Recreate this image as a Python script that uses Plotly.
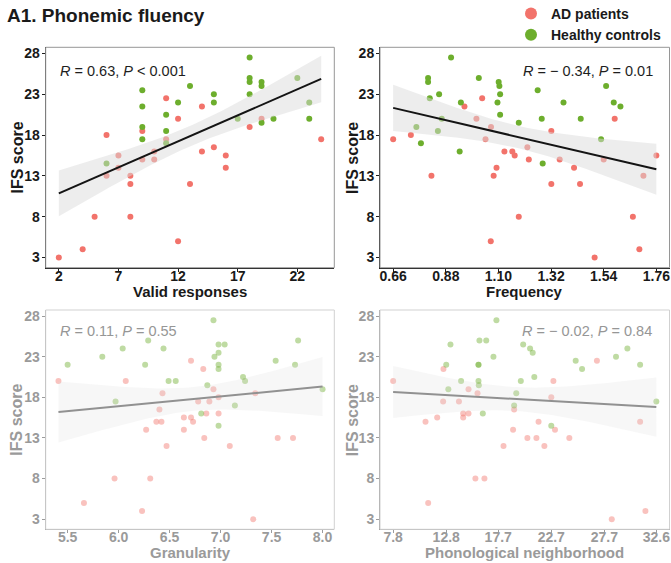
import numpy as np
import plotly.graph_objects as go

# ---------------- data ----------------
valid_red_x = [2, 4, 5, 6, 6, 7, 7, 8, 8, 8, 9, 9, 10, 10, 11, 11, 12, 12, 13, 14, 14, 15, 16, 16, 18, 19, 24]
valid_red_y = [3, 4, 8, 18, 13, 15.5, 14, 13, 12, 8, 18.5, 15, 16, 15, 22.5, 17.5, 20, 5, 12, 21.5, 16, 16.5, 15.5, 14, 19, 20, 17.5]
valid_green_x = [6, 9, 9, 9, 9, 11, 11, 11, 12, 13, 15, 15, 17, 18, 18, 18, 18, 19, 19, 19, 20, 22, 23, 23]
valid_green_y = [14.5, 23.5, 21.5, 19, 17.5, 20.5, 18.5, 17, 22, 24, 23, 22, 20, 27.5, 25, 24.5, 23, 24.5, 24, 19.5, 20, 25, 22, 20]

freq_red_x = [0.66, 0.734, 0.82, 0.958, 1.008, 1.032, 1.046, 1.069, 1.068, 1.08, 1.092, 1.125, 1.158, 1.168, 1.185,
              1.221, 1.227, 1.321, 1.321, 1.356, 1.416, 1.441, 1.502, 1.54, 1.586, 1.662, 1.689, 1.706, 1.76]
freq_red_y = [17.5, 18, 13, 21.5, 20, 22.5, 17.5, 19, 5, 13, 14, 16, 16, 15.5, 8, 16.5, 15, 18.5, 12, 15, 14, 12, 3, 15,
              20, 8, 4, 13, 15.5]
freq_green_x = [0.757, 0.776, 0.806, 0.806, 0.813, 0.847, 0.852, 0.863, 0.902, 0.938, 0.943, 1.018, 1.096, 1.101, 1.104,
                1.107, 1.107, 1.185, 1.264, 1.281, 1.285, 1.372, 1.444, 1.529, 1.55, 1.582, 1.61]
freq_green_y = [19, 17, 25, 24.5, 22.5, 18.5, 23, 20, 27.5, 16, 22, 25, 22, 24.5, 24, 23, 20.5, 19.5, 23.5, 20, 14.5, 22,
                20, 17.5, 24, 22, 21.5]

gran_red_x = [5.41, 5.66, 5.96, 6.07, 6.27, 6.23, 6.31, 6.37, 6.40, 6.42, 6.43, 6.47, 6.64, 6.64, 6.71, 6.71, 6.73, 6.78,
              6.83, 6.84, 6.86, 6.89, 6.93, 6.98, 6.98, 7.09, 7.32, 7.34, 7.56, 7.71]
gran_red_y = [20, 5, 8, 20, 14, 4, 8, 15, 16.5, 15, 18.5, 12, 15.5, 14, 22.5, 15.5, 15, 17.5, 21.5, 13, 16, 17.5, 19, 18,
              16, 12, 3, 18.5, 13, 13]
gran_green_x = [5.5, 5.84, 5.97, 6.04, 6.26, 6.29, 6.44, 6.49, 6.56, 6.81, 6.87, 6.93, 6.94, 6.98, 6.98, 6.98, 6.98, 6.98,
                7.04, 7.14, 7.22, 7.24, 7.54, 7.73, 7.76, 8.0]
gran_green_y = [22, 23, 17.5, 24, 22, 25, 24, 20, 20, 16, 19.5, 27.5, 23, 24.5, 23.5, 22, 21.5, 14.5, 24.5, 17, 20.5, 20,
                22.5, 22, 25, 19]

phon_red_x = [7.8, 10.85, 11.1, 11.95, 12.51, 12.54, 14.0, 14.4, 14.4, 14.9, 14.9, 15.55, 15.75, 16.4, 18.2, 19.1, 19.2,
              20.45, 21.3, 21.5, 22.05, 22.7, 22.9, 23.05, 24.4, 27.0, 28.4, 31.07, 31.57]
phon_red_y = [20, 15, 5, 15.5, 17.5, 21.5, 17.5, 16, 15.5, 19, 16, 8, 18.5, 8, 12, 14, 16.5, 13, 13, 15, 12, 18, 20, 14,
              13, 22.5, 3, 15, 4]
phon_green_x = [12.8, 13.0, 13.2, 14.2, 15.84, 15.84, 15.84, 15.87, 15.93, 16.25, 16.57, 17.25, 17.53, 19.2, 19.4, 19.83,
                20.05, 20.7, 20.95, 21.1, 22.7, 25.0, 25.6, 28.8, 29.87, 31.07, 32.6]
phon_green_y = [22, 19, 24.5, 20, 22, 22, 20, 19.5, 25, 16, 25, 23, 27.5, 17, 18.5, 20, 24.5, 24, 23.5, 20.5, 14.5, 22.5,
                21.5, 23, 24, 22, 17.5]

x_titles = ["Valid responses", "Frequency", "Granularity", "Phonological neighborhood"]
y_title = "IFS score"
stat_labels = ["<i>R</i> = 0.63, <i>P</i> &lt; 0.001", "<i>R</i> = \u2212 0.34, <i>P</i> = 0.01",
               "<i>R</i> = 0.11, <i>P</i> = 0.55", "<i>R</i> = \u2212 0.02, <i>P</i> = 0.84"]
y_ticks = [3, 8, 13, 18, 23, 28]
x_ticks_1 = [2, 7, 12, 17, 22]
x_ticks_2 = [0.66, 0.88, 1.10, 1.32, 1.54, 1.76]
x_ticks_3 = [5.5, 6.0, 6.5, 7.0, 7.5, 8.0]
x_ticks_4 = [7.8, 12.8, 17.7, 22.7, 27.7, 32.6]
x_ticktext_4 = ["7.8", "12.8", "17.7", "22.7", "27.7", "32.6"]
legend_names = ["AD patients", "Healthy controls"]

# ---------------- styling ----------------
W, H = 671, 563
RED = (242, 115, 107)
GREEN = (109, 174, 45)
FONT = "Liberation Sans, Arial, sans-serif"
FADE = 0.56


def hexc(rgb):
    return "#%02x%02x%02x" % tuple(int(round(v)) for v in rgb)


def fade(rgb, f):
    return tuple(c * (1 - f) + 255 * f for c in rgb)


def t975(df):
    z = 1.959964
    return z + (z ** 3 + z) / (4 * df) + (5 * z ** 5 + 16 * z ** 3 + 3 * z) / (96 * df ** 2)


def fit(xr, yr, xg, yg):
    x = np.array(xr + xg, float)
    y = np.array(yr + yg, float)
    n = len(x)
    b, a = np.polyfit(x, y, 1)
    xs = np.linspace(x.min(), x.max(), 80)
    yh = a + b * xs
    res = y - (a + b * x)
    s = np.sqrt(res @ res / (n - 2))
    sxx = ((x - x.mean()) ** 2).sum()
    se = s * np.sqrt(1 / n + (xs - x.mean()) ** 2 / sxx)
    t = t975(n - 2)
    return xs, yh, yh - t * se, yh + t * se


def px(p):
    return p / W


def py(p):
    return 1 - p / H


panels = [
    dict(rx=valid_red_x, ry=valid_red_y, gx=valid_green_x, gy=valid_green_y, xd=(45.7, 334.3), yd=(47.3, 267.7),
         xr=(0.9, 25.1), xt=x_ticks_1, xtt=[str(v) for v in x_ticks_1], faded=False, stat_x=58, stat_y=71,
         anchor="left", ytx=17, xty=291.5),
    dict(rx=freq_red_x, ry=freq_red_y, gx=freq_green_x, gy=freq_green_y, xd=(380, 669.5), yd=(47.3, 267.7),
         xr=(0.605, 1.815), xt=x_ticks_2, xtt=["%.2f" % v for v in x_ticks_2], faded=False, stat_x=655, stat_y=71,
         anchor="right", ytx=352.5, xty=291.5),
    dict(rx=gran_red_x, ry=gran_red_y, gx=gran_green_x, gy=gran_green_y, xd=(45.7, 334.3), yd=(310, 529.3),
         xr=(5.285, 8.115), xt=x_ticks_3, xtt=["%.1f" % v for v in x_ticks_3], faded=True, stat_x=58, stat_y=331,
         anchor="left", ytx=17, xty=552.5),
    dict(rx=phon_red_x, ry=phon_red_y, gx=phon_green_x, gy=phon_green_y, xd=(380, 669.5), yd=(310, 529.3),
         xr=(6.56, 33.84), xt=x_ticks_4, xtt=x_ticktext_4, faded=True, stat_x=654, stat_y=331, anchor="right",
         ytx=352.5, xty=552.5),
]

fig = go.Figure()
layout = dict(width=W, height=H, margin=dict(l=0, r=0, t=0, b=0, autoexpand=False), plot_bgcolor="white",
              paper_bgcolor="white", font=dict(family=FONT), showlegend=True, shapes=[], annotations=[])

for i, p in enumerate(panels):
    k = "" if i == 0 else str(i + 1)
    xa, ya = "x" + k, "y" + k
    f = FADE if p["faded"] else 0.0
    alpha = 1 - f
    txt = hexc(fade((25, 25, 25), f))
    axis_line = hexc(fade((30, 30, 30), f))
    border = hexc(fade((150, 150, 150), f))
    for (xs_, ys_, col) in [(p["rx"], p["ry"], RED), (p["gx"], p["gy"], GREEN)]:
        fig.add_trace(go.Scatter(
            x=xs_, y=ys_, mode="markers", xaxis=xa, yaxis=ya, showlegend=False, hoverinfo="skip",
            marker=dict(size=6, color="rgba(%d,%d,%d,%.3f)" % (col[0], col[1], col[2], alpha), line=dict(width=0))))
    xs, yh, lo, hi = fit(p["rx"], p["ry"], p["gx"], p["gy"])
    fig.add_trace(go.Scatter(
        x=np.concatenate([xs, xs[::-1]]), y=np.concatenate([hi, lo[::-1]]), mode="lines", fill="toself",
        fillcolor="rgba(220,220,220,%.3f)" % (0.5 * alpha), line=dict(width=0), xaxis=xa, yaxis=ya,
        showlegend=False, hoverinfo="skip"))
    fig.add_trace(go.Scatter(
        x=xs, y=yh, mode="lines", line=dict(color=hexc(fade((20, 20, 20), f * 0.95)), width=2), xaxis=xa, yaxis=ya,
        showlegend=False, hoverinfo="skip"))

    tickfont = dict(family=FONT, size=14, color=txt, weight="bold")
    layout["xaxis" + k] = dict(
        domain=[px(p["xd"][0]), px(p["xd"][1])], anchor=ya, range=list(p["xr"]), tickvals=p["xt"],
        ticktext=p["xtt"], showgrid=False, zeroline=False, ticks="outside", ticklen=3, tickwidth=1,
        tickcolor=axis_line, showline=True, linecolor=axis_line, linewidth=1, tickfont=tickfont,
        ticklabelstandoff=-8)
    layout["yaxis" + k] = dict(
        domain=[py(p["yd"][1]), py(p["yd"][0])], anchor=xa, range=[1.75, 28.75], tickvals=y_ticks,
        showgrid=False, zeroline=False, ticks="outside", ticklen=3, tickwidth=1, tickcolor=axis_line,
        showline=True, linecolor=axis_line, linewidth=1, tickfont=tickfont, ticklabelstandoff=-1)
    layout["shapes"].append(dict(type="rect", xref=xa + " domain", yref=ya + " domain", x0=0, x1=1, y0=0, y1=1,
                                 line=dict(color=border, width=1), fillcolor="rgba(0,0,0,0)", layer="above"))
    layout["annotations"].append(dict(
        text=stat_labels[i], xref="paper", yref="paper", x=px(p["stat_x"]), y=py(p["stat_y"]),
        xanchor=p["anchor"], yanchor="middle", showarrow=False,
        font=dict(family=FONT, size=14.5, color=hexc(fade((30, 30, 30), f * 0.95)))))
    # axis titles
    layout["annotations"].append(dict(
        text=x_titles[i], xref="paper", yref="paper", x=px((p["xd"][0] + p["xd"][1]) / 2), y=py(p["xty"]),
        xanchor="center", yanchor="middle", showarrow=False,
        font=dict(family=FONT, size=15, color=txt, weight="bold")))
    layout["annotations"].append(dict(
        text=y_title, xref="paper", yref="paper", x=px(p["ytx"]), y=py((p["yd"][0] + p["yd"][1]) / 2),
        xanchor="center", yanchor="middle", textangle=-90, showarrow=False,
        font=dict(family=FONT, size=16, color=txt, weight="bold")))

# legend entries
for name, col in zip(legend_names, [RED, GREEN]):
    fig.add_trace(go.Scatter(x=[None], y=[None], mode="markers", name=name,
                             marker=dict(size=12, color=hexc(col)), xaxis="x", yaxis="y"))

layout["legend"] = dict(x=px(511), y=py(-2), xanchor="left", yanchor="top", bgcolor="rgba(0,0,0,0)",
                        font=dict(family=FONT, size=14, color="#1a1a1a", weight="bold"), itemwidth=30,
                        tracegroupgap=0)
layout["annotations"].append(dict(
    text="<b>A1. Phonemic fluency</b>", xref="paper", yref="paper", x=px(5), y=py(16), xanchor="left",
    yanchor="middle", showarrow=False, font=dict(family=FONT, size=19, color="#1a1a1a")))

fig.update_layout(**layout)
fig.write_html("out.html", config={"displayModeBar": False},
               post_script="document.body.style.margin='0px';document.body.style.overflow='hidden';")
